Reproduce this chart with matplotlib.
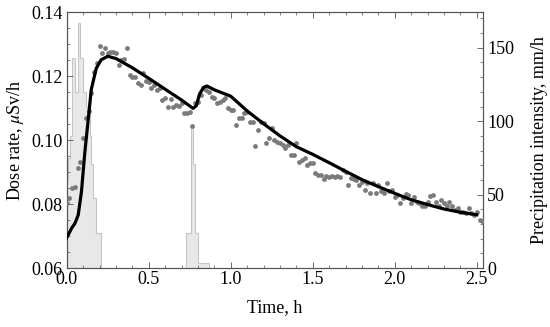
import numpy as np
import matplotlib.pyplot as plt
from matplotlib.ticker import MultipleLocator

plt.rcParams['font.family'] = ['Liberation Serif', 'DejaVu Serif']
plt.rcParams['mathtext.fontset'] = 'stix'

# measured dose rate, one sample per minute starting at t = 0
dose_step_h = 1.0 / 60.0
dose_measured = [
    0.0804, 0.0820, 0.0850, 0.0855, 0.0912, 0.0933, 0.1007, 0.1070, 0.1093, 0.1147,
    0.1215, 0.1241, 0.1295, 0.1272, 0.1290, 0.1274, 0.1277, 0.1276, 0.1274, 0.1236,
    0.1250, 0.1254, 0.1288, 0.1204, 0.1199, 0.1197, 0.1180, 0.1173, 0.1210, 0.1185,
    0.1183, 0.1165, 0.1173, 0.1157, 0.1163, 0.1126, 0.1131, 0.1103, 0.1128, 0.1105,
    0.1110, 0.1107, 0.1116, 0.1084, 0.1084, 0.1089, 0.1045, 0.1117, 0.1121, 0.1142,
    0.1163, 0.1157, 0.1152, 0.1137, 0.1131, 0.1116, 0.1121, 0.1126, 0.1131, 0.1100,
    0.1095, 0.1095, 0.1048, 0.1069, 0.1069, 0.1084, 0.1089, 0.1058, 0.1058, 0.0983,
    0.1032, 0.1058, 0.1053, 0.0991, 0.1006, 0.1037, 0.1001, 0.0996, 0.0991, 0.0985,
    0.0975, 0.0985, 0.0954, 0.0954, 0.0991, 0.0933, 0.0938, 0.0944, 0.0923, 0.0928,
    0.0930, 0.0897, 0.0891, 0.0891, 0.0880, 0.0888, 0.0886, 0.0888, 0.0886, 0.0888,
    0.0886, 0.0907, 0.0902, 0.0860, 0.0881, 0.0878, 0.0876, 0.0860, 0.0870, 0.0844,
    0.0867, 0.0834, 0.0865, 0.0834, 0.0860, 0.0840, 0.0836, 0.0867, 0.0840, 0.0844,
    0.0824, 0.0829, 0.0803, 0.0818, 0.0832, 0.0829, 0.0803, 0.0822, 0.0808, 0.0805,
    0.0793, 0.0795, 0.0808, 0.0826, 0.0829, 0.0808, 0.0795, 0.0813, 0.0803, 0.0793,
    0.0808, 0.0793, 0.0782, 0.0787, 0.0777, 0.0777, 0.0772, 0.0787, 0.0772, 0.0767,
    0.0775, 0.0751, 0.0746,
]

# model curve
model_time = [0.0, 0.03, 0.05, 0.07, 0.09, 0.11, 0.13, 0.15, 0.18, 0.21, 0.25,
              0.3, 0.4, 0.5, 0.6, 0.7, 0.77, 0.79, 0.81, 0.835, 0.855, 0.9,
              1.0, 1.1, 1.2, 1.3, 1.4, 1.5, 1.6, 1.7, 1.8, 1.9, 2.0, 2.1,
              2.2, 2.3, 2.4, 2.5]
model_dose = [0.0695, 0.0725, 0.0740, 0.0766, 0.0840, 0.0960, 0.1060, 0.1160,
              0.1225, 0.1252, 0.1263, 0.1256, 0.1227, 0.1194, 0.1160, 0.1126,
              0.1100, 0.1108, 0.1145, 0.1166, 0.1170, 0.1158, 0.1138, 0.1092,
              0.1052, 0.1014, 0.0980, 0.0956, 0.0930, 0.0903, 0.0877, 0.0855,
              0.0834, 0.0814, 0.0799, 0.0785, 0.0775, 0.0767]

# precipitation intensity, 0.01 h bins
rain_bin_h = 0.01
rain1_start = 0.0
rain1 = [60, 75, 90, 143, 143, 120, 120, 167, 143, 143, 120, 120, 110, 110,
         90, 71, 48, 48, 24, 24, 24]
rain2_start = 0.73
rain2 = [24, 24, 24, 97, 71, 24, 24, 3.4, 3.4, 3.4, 3.4, 3.4, 3.4, 3.4]

fig = plt.figure(figsize=(5.5, 3.27), dpi=100)
ax1 = fig.add_axes([0.1213, 0.18, 0.7569, 0.7818])
ax2 = ax1.twinx()

for start, vals in [(rain1_start, rain1), (rain2_start, rain2)]:
    edges = start + rain_bin_h * np.arange(len(vals) + 1)
    ax2.stairs(vals, edges, fill=True, color='#e8e8e8', linewidth=0)
    ax2.stairs(vals, edges, color='#c6c6c6', linewidth=0.8)

t_meas = dose_step_h * np.arange(len(dose_measured))
ax1.scatter(t_meas, dose_measured, s=12, color='#7a7a7a', linewidths=0, zorder=3)
ax1.plot(model_time, model_dose, color='black', lw=2.3, zorder=4)

ax1.set_zorder(ax2.get_zorder() + 1)
ax1.patch.set_visible(False)

ax1.set_xlim(0, 2.538)
ax1.set_ylim(0.06, 0.14)
ax2.set_ylim(0, 174)

ax1.xaxis.set_major_locator(MultipleLocator(0.5))
ax1.xaxis.set_minor_locator(MultipleLocator(0.1))
ax1.yaxis.set_major_locator(MultipleLocator(0.02))
ax1.yaxis.set_minor_locator(MultipleLocator(0.005))
ax2.yaxis.set_major_locator(MultipleLocator(50))
ax2.yaxis.set_minor_locator(MultipleLocator(10))
ax1.xaxis.set_major_formatter(plt.FormatStrFormatter('%.1f'))
ax1.yaxis.set_major_formatter(plt.FormatStrFormatter('%.2f'))

ax1.tick_params(which='both', direction='in', top=True, right=False,
                labelsize=13, color='#555555')
ax1.tick_params(axis='x', pad=2)
ax1.tick_params(axis='y', pad=3)
ax1.tick_params(which='major', length=4, width=0.6)
ax1.tick_params(which='minor', length=2.5, width=0.5)
ax2.tick_params(which='both', direction='in', labelsize=13, pad=3, color='#555555')
ax2.tick_params(which='major', length=4, width=0.6)
ax2.tick_params(which='minor', length=2.5, width=0.5)

for ax in (ax1, ax2):
    for sp in ax.spines.values():
        sp.set_color('#555555')
        sp.set_linewidth(0.8)

ax1.set_xlabel('Time, h', fontsize=13, labelpad=8)
ax1.set_ylabel(r'Dose rate, $\mu$Sv/h', fontsize=13, labelpad=4)
ax2.set_ylabel('Precipitation intensity, mm/h', fontsize=13, labelpad=12)

fig.savefig('out.png', dpi=100)
